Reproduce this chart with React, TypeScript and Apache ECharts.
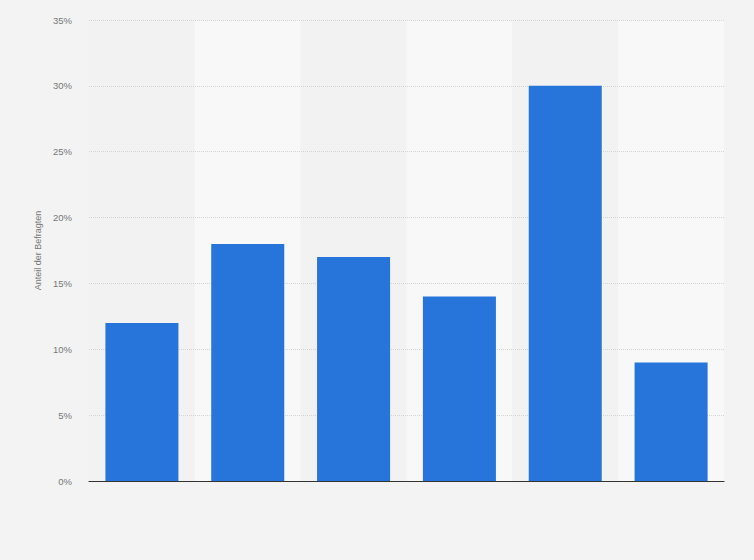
import React, { useRef, useEffect } from "react";
import * as echarts from "echarts";

const categories = ["A", "B", "C", "D", "E", "F"];
const shares = [12, 18, 17, 14, 30, 9];
const yTicks = [0, 5, 10, 15, 20, 25, 30, 35];

const App = function () {
  const chart = useRef<HTMLDivElement>(null);
  useEffect(() => {
    document.body.style.margin = "0";
    if (!chart.current) return;
    const myChart = echarts.init(chart.current, null, { renderer: "svg" });
    const option = {
      animation: false,
      backgroundColor: "#f3f3f3",
      textStyle: { fontFamily: "Liberation Sans, Arial, sans-serif" },
      grid: { left: 89, right: 30, top: 20, bottom: 79 },
      xAxis: {
        type: "category",
        data: categories,
        z: 0,
        axisTick: { show: false },
        axisLabel: { show: false },
        axisLine: { lineStyle: { color: "#333", width: 1.2 } },
        splitArea: {
          show: true,
          areaStyle: { color: ["rgba(242,242,242,1)", "rgba(248,248,248,1)"] },
        },
      },
      yAxis: {
        type: "value",
        min: yTicks[0],
        max: yTicks[yTicks.length - 1],
        interval: 5,
        z: 1,
        name: "Anteil der Befragten",
        nameLocation: "middle",
        nameGap: 44,
        nameTextStyle: { color: "#777", fontSize: 9 },
        axisLine: { show: false },
        axisTick: { show: false },
        axisLabel: {
          color: "#777",
          fontSize: 9.5,
          margin: 17,
          formatter: (v: number) => v + "%",
        },
        splitLine: {
          showMinLine: false,
          lineStyle: { color: "#d4d4d4", type: [1, 1] },
        },
      },
      series: [
        {
          type: "bar",
          data: shares,
          barWidth: "69%",
          z: 2,
          itemStyle: { color: "#2775db" },
        },
      ],
    };
    myChart.setOption(option);
    return () => {
      myChart.dispose();
    };
  }, []);
  return <div ref={chart} style={{ width: 754, height: 560 }}></div>;
};
export default App;
